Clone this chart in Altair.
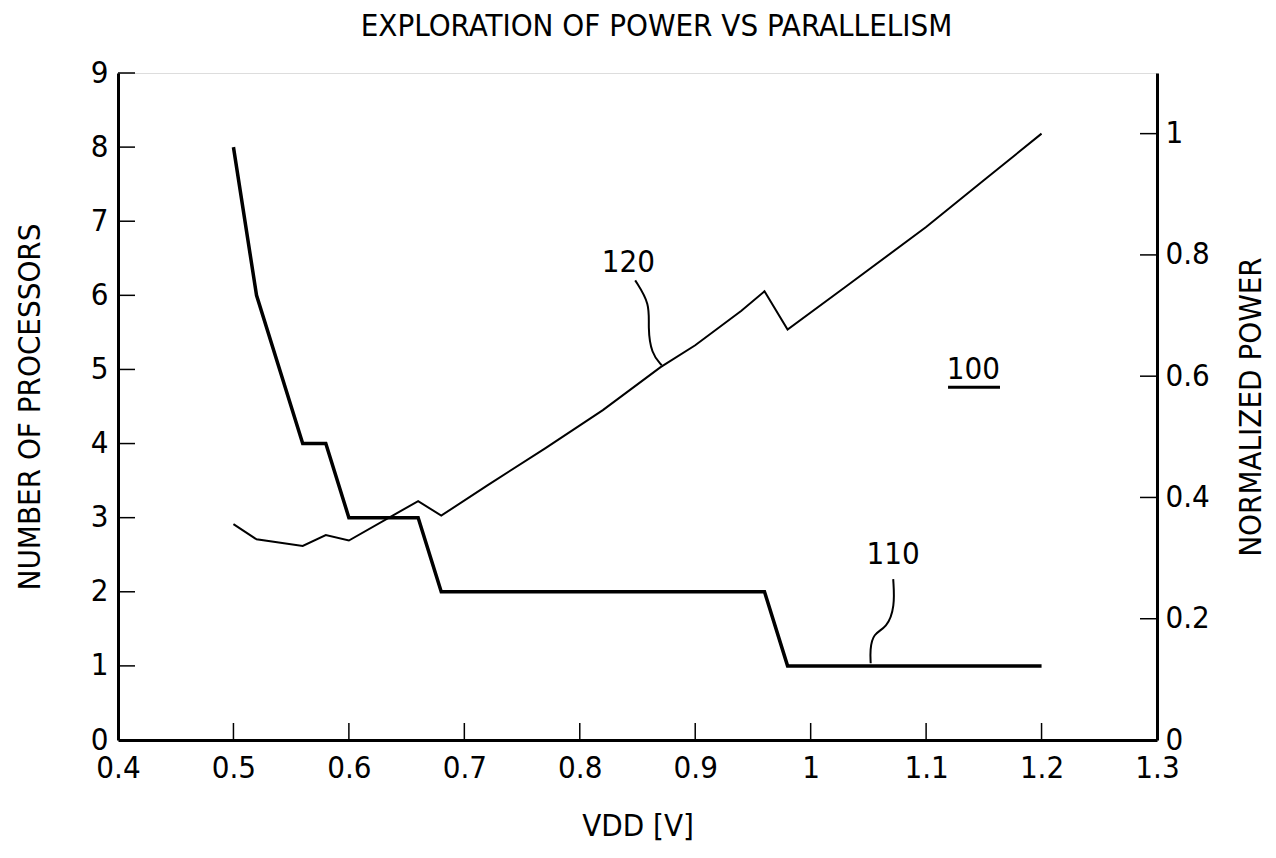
import altair as alt
import pandas as pd

# ---- data ----
vdd_proc = [0.50, 0.52, 0.56, 0.58, 0.60, 0.66, 0.68, 0.96, 0.98, 1.20]
processors = [8, 6, 4, 4, 3, 3, 2, 2, 1, 1]

vdd_pow = [0.50, 0.52, 0.56, 0.58, 0.60, 0.66, 0.68, 0.72, 0.77, 0.82,
           0.87, 0.90, 0.94, 0.96, 0.98, 1.03, 1.10, 1.15, 1.20]
power = [0.356, 0.331, 0.320, 0.338, 0.329, 0.394, 0.370, 0.420, 0.481, 0.544,
         0.615, 0.651, 0.708, 0.740, 0.677, 0.747, 0.846, 0.923, 1.0]

x_ticks = [0.4, 0.5, 0.6, 0.7, 0.8, 0.9, 1.0, 1.1, 1.2, 1.3]
left_ticks = [0, 1, 2, 3, 4, 5, 6, 7, 8, 9]
right_ticks = [0, 0.2, 0.4, 0.6, 0.8, 1.0]

# annotation leaders (data units)
lead120_x = [0.848, 0.861, 0.859, 0.862, 0.871]
lead120_y = [0.758, 0.719, 0.681, 0.637, 0.618]
lead110_x = [1.0715, 1.073, 1.066, 1.054, 1.0514, 1.052]
lead110_y = [2.17, 1.80, 1.51, 1.44, 1.21, 1.035]

TITLE = "EXPLORATION OF POWER VS PARALLELISM"
FONT = "Liberation Sans Narrow, DejaVu Sans Condensed, sans-serif"
W, H = 1039, 667
FS = 31

df_proc = pd.DataFrame({"vdd": vdd_proc, "n": processors})
df_pow = pd.DataFrame({"vdd": vdd_pow, "p": power})
df_l120 = pd.DataFrame({"vdd": lead120_x, "p": lead120_y, "o": range(len(lead120_x))})
df_l110 = pd.DataFrame({"vdd": lead110_x, "n": lead110_y, "o": range(len(lead110_x))})

common = dict(ticks=False, tickSize=0, grid=False, domainWidth=3, domainColor="black",
              labelFontSize=FS, labelFont=FONT, labelColor="black", titleFontSize=FS,
              titleFont=FONT, titleFontWeight="normal", titleColor="black",
              labelFlush=False, labelOverlap=False, format="~g")

xscale = alt.Scale(domain=[0.4, 1.3], nice=False, zero=False)
xaxis = alt.Axis(values=x_ticks, labelPadding=13, title="VDD [V]",
                 titleBaseline="middle", titleX=W / 2, titleY=86, **common)
lscale = alt.Scale(domain=[0, 9], nice=False)
laxis = alt.Axis(values=left_ticks, labelPadding=10, title="NUMBER OF PROCESSORS",
                 titleAngle=270, titleBaseline="middle", titleX=-88, titleY=H / 2, **common)
rscale = alt.Scale(domain=[0, 1.1], nice=False)
raxis = alt.Axis(values=right_ticks, orient="right", labelPadding=8, title="NORMALIZED POWER",
                 titleAngle=270, titleBaseline="middle", titleX=94, titleY=H / 2, **common)

X = alt.X("vdd:Q", scale=xscale, axis=xaxis)

proc_line = alt.Chart(df_proc).mark_line(color="black", strokeWidth=3.5).encode(
    x=X, y=alt.Y("n:Q", scale=lscale, axis=laxis))

lead110 = alt.Chart(df_l110).mark_line(color="black", strokeWidth=2, interpolate="basis").encode(
    x=alt.X("vdd:Q", scale=xscale), y=alt.Y("n:Q", scale=lscale), order="o:Q")

txt110 = alt.Chart(pd.DataFrame({"vdd": [1.0714], "n": [2.50], "t": ["110"]})).mark_text(
    font=FONT, fontSize=FS, color="black").encode(
    x=alt.X("vdd:Q", scale=xscale), y=alt.Y("n:Q", scale=lscale), text="t:N")

txt100 = alt.Chart(pd.DataFrame({"vdd": [1.141], "n": [4.99], "t": ["100"]})).mark_text(
    font=FONT, fontSize=FS, color="black").encode(
    x=alt.X("vdd:Q", scale=xscale), y=alt.Y("n:Q", scale=lscale), text="t:N")

under100 = alt.Chart(pd.DataFrame({"vdd": [1.119], "vdd2": [1.164], "n": [4.76]})).mark_rule(
    color="black", strokeWidth=3).encode(
    x=alt.X("vdd:Q", scale=xscale), x2="vdd2:Q", y=alt.Y("n:Q", scale=lscale))

xt = alt.Chart(pd.DataFrame({"v": x_ticks[1:-1]})).mark_rule(color="black", strokeWidth=1.5).encode(
    x=alt.X("v:Q", scale=xscale), y=alt.value(H), y2=alt.value(H - 17))

lt = alt.Chart(pd.DataFrame({"v": left_ticks[1:]})).mark_rule(color="black", strokeWidth=1.5).encode(
    y=alt.Y("v:Q", scale=lscale), x=alt.value(0), x2=alt.value(17))

title = alt.Chart(pd.DataFrame({"t": [TITLE]})).mark_text(
    font=FONT, fontSize=FS, color="black", baseline="alphabetic", align="center").encode(
    x=alt.value(W / 2 + 19), y=alt.value(-37), text="t:N")

left = alt.layer(proc_line, lead110, txt110, txt100, under100, xt, lt, title)

pow_line = alt.Chart(df_pow).mark_line(color="black", strokeWidth=2).encode(
    x=alt.X("vdd:Q", scale=xscale), y=alt.Y("p:Q", scale=rscale, axis=raxis))

lead120 = alt.Chart(df_l120).mark_line(color="black", strokeWidth=2, interpolate="basis").encode(
    x=alt.X("vdd:Q", scale=xscale), y=alt.Y("p:Q", scale=rscale), order="o:Q")

txt120 = alt.Chart(pd.DataFrame({"vdd": [0.842], "p": [0.787], "t": ["120"]})).mark_text(
    font=FONT, fontSize=FS, color="black").encode(
    x=alt.X("vdd:Q", scale=xscale), y=alt.Y("p:Q", scale=rscale), text="t:N")

rt = alt.Chart(pd.DataFrame({"v": right_ticks[1:]})).mark_rule(color="black", strokeWidth=1.5).encode(
    y=alt.Y("v:Q", scale=rscale), x=alt.value(W - 17), x2=alt.value(W))

right = alt.layer(pow_line, lead120, txt120, rt)

chart = alt.layer(left, right).resolve_scale(y="independent").properties(
    width=W, height=H,
    autosize=alt.AutoSizeParams(type="none"),
    padding={"left": 110, "top": 65, "right": 110, "bottom": 104},
).configure_view(stroke=None).configure(background="white")

chart.save("out.html", embed_options={"renderer": "svg", "actions": False})
